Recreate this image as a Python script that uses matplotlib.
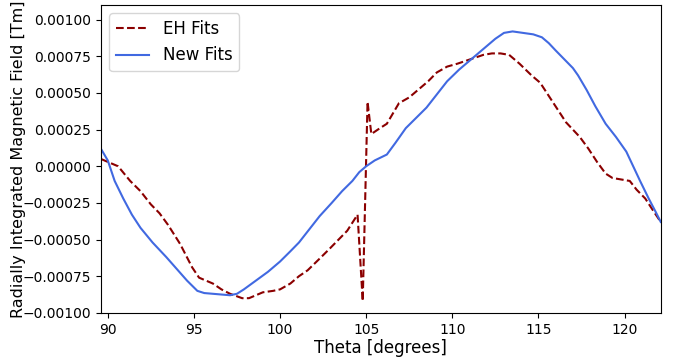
import numpy as np
import matplotlib
matplotlib.use("Agg")
import matplotlib.pyplot as plt
from matplotlib.ticker import MultipleLocator

# EH fits (dashed) - theta in degrees, field in units of 1e-3 Tm
theta_eh = [89.6, 90.0, 90.6, 91.3, 91.9, 92.5, 93.0, 93.5, 94.2, 94.9, 95.3,
            96.1, 96.6, 97.1, 97.8, 98.2, 98.6, 99.0, 99.6, 100.0, 100.6, 101.1,
            101.6, 102.3, 102.9, 103.4, 103.9, 104.5, 104.8, 105.08, 105.3, 105.8,
            106.2, 106.9, 107.5, 108.0, 108.6, 109.1, 109.7, 110.3, 110.8, 111.3,
            111.8, 112.3, 112.8, 113.3, 113.9, 114.6, 115.1, 115.6, 116.1, 116.6,
            117.0, 117.4, 117.9, 118.4, 118.9, 119.3, 119.8, 120.3, 120.7, 121.2,
            121.7, 122.1]
field_eh = [0.05, 0.03, 0.00, -0.10, -0.17, -0.26, -0.32, -0.40, -0.53, -0.69, -0.76,
            -0.80, -0.84, -0.87, -0.90, -0.90, -0.88, -0.86, -0.85, -0.84, -0.80, -0.75,
            -0.71, -0.63, -0.56, -0.50, -0.44, -0.33, -0.92, 0.44, 0.22, 0.26,
            0.29, 0.43, 0.47, 0.52, 0.58, 0.64, 0.68, 0.70, 0.72, 0.74,
            0.76, 0.77, 0.77, 0.76, 0.70, 0.62, 0.57, 0.48, 0.39, 0.30,
            0.25, 0.20, 0.12, 0.03, -0.05, -0.08, -0.09, -0.10, -0.16, -0.22,
            -0.31, -0.38]

# New fits (solid)
theta_new = [89.6, 90.0, 90.4, 90.9, 91.4, 91.9, 92.6, 93.4, 94.0, 94.6, 95.2,
             95.6, 96.1, 96.6, 97.1, 97.5, 97.9, 98.6, 99.3, 100.0, 100.6, 101.1,
             101.7, 102.3, 103.0, 103.6, 104.2, 104.6, 105.0, 105.5, 106.2, 106.7,
             107.3, 107.9, 108.5, 109.1, 109.7, 110.4, 111.2, 111.9, 112.5, 113.0,
             113.5, 114.1, 114.7, 115.2, 115.6, 116.0, 116.5, 117.0, 117.3, 117.8,
             118.3, 118.9, 119.5, 120.1, 120.5, 120.9, 121.4, 121.8, 122.1]
field_new = [0.12, 0.04, -0.10, -0.22, -0.33, -0.42, -0.52, -0.62, -0.70, -0.78, -0.85,
             -0.865, -0.87, -0.875, -0.88, -0.87, -0.84, -0.78, -0.72, -0.65, -0.58, -0.52,
             -0.43, -0.34, -0.25, -0.17, -0.10, -0.04, 0.00, 0.04, 0.08, 0.16,
             0.26, 0.33, 0.40, 0.49, 0.58, 0.66, 0.74, 0.81, 0.87, 0.91,
             0.92, 0.91, 0.90, 0.88, 0.84, 0.79, 0.73, 0.67, 0.62, 0.52,
             0.41, 0.29, 0.20, 0.10, 0.00, -0.10, -0.22, -0.31, -0.38]

fig = plt.figure(figsize=(6.77, 3.6), dpi=100)
ax = fig.add_axes([0.149, 0.131, 0.827, 0.855])

ax.plot(theta_eh, np.array(field_eh) * 1e-3, '--', color='darkred', lw=1.5, label='EH Fits')
ax.plot(theta_new, np.array(field_new) * 1e-3, '-', color='royalblue', lw=1.5, label='New Fits')

ax.set_xlim(89.6, 122.1)
ax.set_ylim(-0.001, 0.0011)
ax.yaxis.set_major_locator(MultipleLocator(0.00025))
ax.tick_params(labelsize=10)

ax.set_xlabel('Theta [degrees]', fontsize=12, labelpad=2)
ax.set_ylabel('Radially Integrated Magnetic Field [Tm]', fontsize=11.5)
ax.yaxis.set_label_coords(-0.133, 0.5)
ax.legend(loc='upper left', fontsize=12)

fig.savefig('out.png', dpi=100)
